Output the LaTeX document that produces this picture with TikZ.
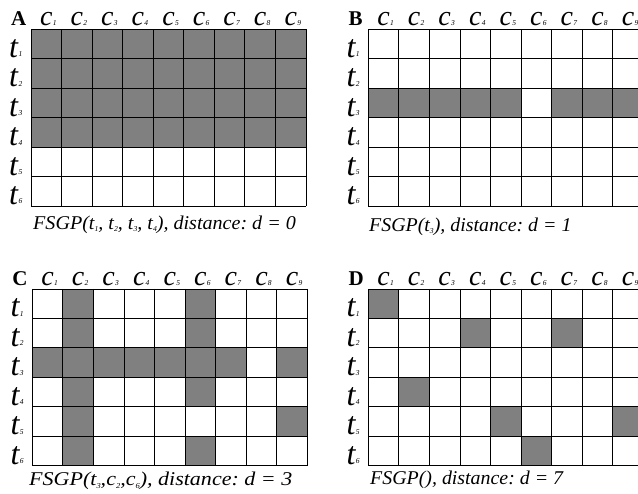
\documentclass[tikz,border=0pt]{standalone}
\usepackage{fontspec}
\setmainfont{Liberation Serif}
\frenchspacing
\newcommand\cw{30.56}
\newcommand\ch{29.45}
\newcommand\subsz[1]{{\fontsize{7.5}{7.5}\selectfont\itshape #1}}
\newcommand\csym[1]{{\fontsize{28}{28}\selectfont\itshape c}\hspace{0.3pt}\subsz{#1}}
\newcommand\tsym[1]{{\fontsize{32}{32}\selectfont\itshape t}\hspace{0.5pt}\raisebox{0.5pt}{\subsz{#1}}}
\newcommand\capsub[1]{\raisebox{-2pt}{\subsz{#1}}}
\tikzset{
  cellfill/.style={fill=black!50},
  gridline/.style={draw=black,line width=0.9pt},
  collabel/.style={anchor=base,inner sep=0pt},
  rowlabel/.style={anchor=base west,inner sep=0pt},
  panellabel/.style={anchor=base west,inner sep=0pt,font=\fontsize{21}{21}\selectfont\bfseries},
  captiontext/.style={anchor=base west,inner sep=0pt,font=\fontsize{19.5}{19.5}\selectfont\itshape},
}
% #1 name, #2 ox, #3 oy, #4 fills (row/col), #5 letter
\newcommand\mypanel[5]{%
  \foreach \r/\c in {#4} {\fill[cellfill] ({#2+(\c-1)*\cw},{#3+(\r-1)*\ch}) rectangle ++(\cw,\ch);}
  \foreach \i in {0,...,9} {\draw[gridline] ({#2+\i*\cw},{#3}) -- ++(0,{6*\ch});}
  \foreach \j in {0,...,6} {\draw[gridline] ({#2},{#3+\j*\ch}) -- ++({9*\cw},0);}
  \foreach \i in {1,...,9} {\node[collabel] (#1-c\i) at ({#2+(\i-0.5)*\cw+2},{#3-3.5}) {\csym{\i}};}
  \foreach \j in {1,...,6} {\node[rowlabel] (#1-t\j) at ({#2-22},{#3+\j*\ch-1.5}) {\tsym{\j}};}
  \node[panellabel] (#1-label) at ({#2-20},{#3-3.5}) {#5};
}
\begin{document}
\begin{tikzpicture}[x=1pt,y=-1pt]
\useasboundingbox (0,0) rectangle (638,494);
\fill[white] (0,0) rectangle (638,494);
\clip (0,0) rectangle (638,494);
\mypanel{A}{31}{29.3}{1/1,1/2,1/3,1/4,1/5,1/6,1/7,1/8,1/9,2/1,2/2,2/3,2/4,2/5,2/6,2/7,2/8,2/9,3/1,3/2,3/3,3/4,3/5,3/6,3/7,3/8,3/9,4/1,4/2,4/3,4/4,4/5,4/6,4/7,4/8,4/9}{A}
\mypanel{B}{368.3}{29.3}{3/1,3/2,3/3,3/4,3/5,3/7,3/8,3/9}{B}
\mypanel{C}{32.3}{289}{1/2,2/2,3/2,4/2,5/2,6/2,1/6,2/6,3/6,4/6,6/6,3/1,3/3,3/4,3/5,3/7,3/9,5/9}{C}
\mypanel{D}{368.3}{289}{1/1,2/4,2/7,4/2,5/5,5/9,6/6}{D}
\node[captiontext] (A-cap) at (33,230) {\scalebox{1.03}[1]{FSGP(t\capsub{1}, t\capsub{2}, t\capsub{3}, t\capsub{4}), distance: d = 0}};
\node[captiontext] (B-cap) at (369,232) {\scalebox{1.02}[1]{FSGP(t\capsub{3}), distance: d = 1}};
\node[captiontext] (C-cap) at (29,486) {\scalebox{1.13}[1]{FSGP(t\capsub{3},c\capsub{2},c\capsub{6}), distance: d = 3}};
\node[captiontext] (D-cap) at (370,485) {\scalebox{1.02}[1]{FSGP(), distance: d = 7}};
\end{tikzpicture}
\end{document}
